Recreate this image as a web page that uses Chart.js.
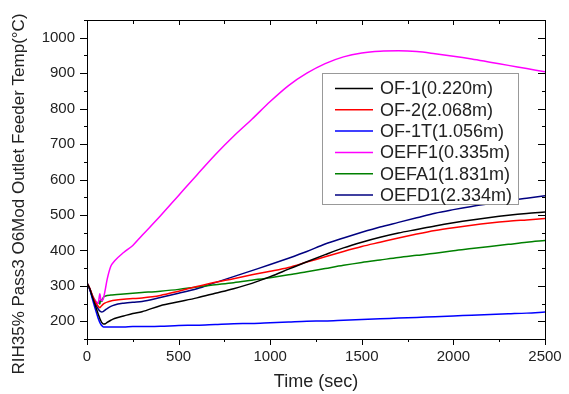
<!DOCTYPE html>
<html>
<head>
<meta charset="utf-8">
<script src="https://cdn.jsdelivr.net/npm/chart.js@4"></script>
<style>
html,body{margin:0;padding:0;background:#fff;}
#wrap{width:569px;height:394px;position:relative;}
</style>
</head>
<body>
<div id="wrap"><canvas id="c" width="569" height="394"></canvas></div>
<script>
// ---- data ----
const timeSec = [0,15,30,45,60,65,70,75,80,90,100,110,130,150,200,250,300,400,500,600,700,800,900,1000,1100,1200,1300,1400,1500,1600,1700,1800,1900,2000,2100,2200,2300,2400,2500];

const seriesLabels = ['OF-1(0.220m)','OF-2(2.068m)','OF-1T(1.056m)','OEFF1(0.335m)','OEFA1(1.831m)','OEFD1(2.334m)'];

const of1  = [308,292,268,245,222,215,208,202,197,192,193,197,203,208,215,222,227,244,255,266,279,292,307,326,347,368,388,407,423,437,449,459,469,478,486,493,499,504,508];
const of2  = [308,293,272,255,243,240,238,241,244,249,252,254,257,259,262,264,266,273,285,298,310,320,331,341,352,367,382,397,411,423,435,446,456,464,471,477,482,486,490];
const of1t = [308,290,262,235,210,203,197,192,188,184,184,184,184,184,184,185,185,186,188,189,191,193,194,196,198,200,201,203,205,207,209,211,213,215,217,219,221,223,226];
const oeff1= [308,292,272,258,250,262,278,262,258,265,290,318,355,370,394,414,442,497,555,613,670,722,770,820,865,900,927,946,957,962,963,961,955,948,940,931,922,913,904];
const oefa1= [308,292,272,258,250,258,248,263,256,268,271,273,274,275,277,279,281,285,290,297,303,309,316,323,331,340,349,358,366,373,380,386,392,399,405,411,417,423,428];
const oefd1= [308,290,268,250,236,232,229,227,226,228,232,236,242,246,251,254,256,267,279,292,309,326,343,360,378,397,418,435,451,466,479,492,505,515,524,532,540,547,554];

const xTicksMajor = [0,500,1000,1500,2000,2500];
const yTicksMajor = [200,300,400,500,600,700,800,900,1000];

const seriesColors = ['#000000','#ff0000','#0000ff','#ff00ff','#008000','#000080'];
const seriesValues = [of1, of2, of1t, oeff1, oefa1, oefd1];

const FONT = "'Liberation Sans', Arial, Helvetica, sans-serif";
const TXT = '#222222';

const datasets = seriesValues.map((vals, i) => ({
  label: seriesLabels[i],
  data: timeSec.map((t, k) => ({x: t, y: vals[k]})),
  borderColor: seriesColors[i],
  backgroundColor: seriesColors[i],
  borderWidth: 1.5,
  pointRadius: 0,
  showLine: true,
  cubicInterpolationMode: 'monotone',
  fill: false
}));

// frame, minor/major ticks, y title, legend
const decor = {
  id: 'decor',
  afterDraw(chart) {
    const ctx = chart.ctx;
    const a = chart.chartArea;
    const xs = chart.scales.x, ys = chart.scales.y;
    ctx.save();
    ctx.strokeStyle = '#000';
    ctx.lineWidth = 1;
    ctx.strokeRect(Math.round(a.left)+0.5, Math.round(a.top)+0.5, Math.round(a.right-a.left), Math.round(a.bottom-a.top));
    ctx.beginPath();
    for (let v = 0; v <= 2500; v += 250) {
      const px = Math.round(xs.getPixelForValue(v)) + 0.5;
      const major = v % 500 === 0;
      const lb = major ? 6 : 3;
      const lt = major ? 5 : 4;
      ctx.moveTo(px, a.bottom); ctx.lineTo(px, a.bottom + lb);
      ctx.moveTo(px, a.top); ctx.lineTo(px, a.top + lt);
    }
    for (let v = 150; v <= 1050; v += 50) {
      const py = Math.round(ys.getPixelForValue(v)) + 0.5;
      const major = v % 100 === 0;
      const l = major ? 7 : 3;
      ctx.moveTo(a.left, py); ctx.lineTo(a.left - l, py);
      ctx.moveTo(a.right, py); ctx.lineTo(a.right - l, py);
    }
    ctx.stroke();

    // y axis title
    ctx.fillStyle = TXT;
    ctx.font = '17px ' + FONT;
    ctx.textAlign = 'center';
    ctx.textBaseline = 'middle';
    ctx.translate(19, 194);
    ctx.rotate(-Math.PI/2);
    ctx.fillText('RIH35% Pass3 O6Mod Outlet Feeder Temp(°C)', 0, 0);
    ctx.restore();

    // legend
    ctx.save();
    const lx = 322, ly = 73, lw = 196, lh = 131;
    ctx.fillStyle = '#fff';
    ctx.fillRect(lx, ly, lw, lh);
    ctx.strokeStyle = '#999';
    ctx.lineWidth = 1;
    ctx.strokeRect(lx + 0.5, ly + 0.5, lw, lh);
    ctx.font = '18px ' + FONT;
    ctx.textAlign = 'left';
    ctx.textBaseline = 'middle';
    chart.data.datasets.forEach((ds, i) => {
      const cy = 88.5 + i * 21.3;
      ctx.strokeStyle = ds.borderColor;
      ctx.lineWidth = 1.5;
      ctx.beginPath();
      ctx.moveTo(335, cy); ctx.lineTo(373, cy);
      ctx.stroke();
      ctx.fillStyle = TXT;
      ctx.fillText(ds.label, 380, cy + 1);
    });
    ctx.restore();
  }
};

new Chart(document.getElementById('c'), {
  type: 'scatter',
  data: { datasets },
  plugins: [decor],
  options: {
    responsive: false,
    animation: false,
    devicePixelRatio: 1,
    layout: { padding: { left: 0, right: 24, top: 20, bottom: 0 } },
    plugins: { legend: { display: false }, tooltip: { enabled: false } },
    scales: {
      x: {
        type: 'linear',
        min: 0, max: 2500,
        afterFit: s => { s.height = 55; },
        afterBuildTicks: s => { s.ticks = xTicksMajor.map(v => ({value: v})); },
        ticks: { color: TXT, font: { size: 15, family: FONT }, padding: 2, maxRotation: 0, callback: v => String(v) },
        grid: { display: true, drawOnChartArea: false, drawTicks: true, tickLength: 7, color: 'rgba(0,0,0,0)' },
        border: { display: false },
        title: { display: true, text: 'Time (sec)', color: TXT, font: { size: 18, family: FONT }, padding: { top: 0, bottom: 1.5 } }
      },
      y: {
        type: 'linear',
        min: 150, max: 1050,
        afterFit: s => { s.width = 87; },
        afterBuildTicks: s => { s.ticks = yTicksMajor.map(v => ({value: v})); },
        ticks: { color: TXT, font: { size: 15, family: FONT }, padding: 5, callback: v => String(v) },
        grid: { display: true, drawOnChartArea: false, drawTicks: true, tickLength: 7, color: 'rgba(0,0,0,0)' },
        border: { display: false }
      }
    }
  }
});
</script>
</body>
</html>
